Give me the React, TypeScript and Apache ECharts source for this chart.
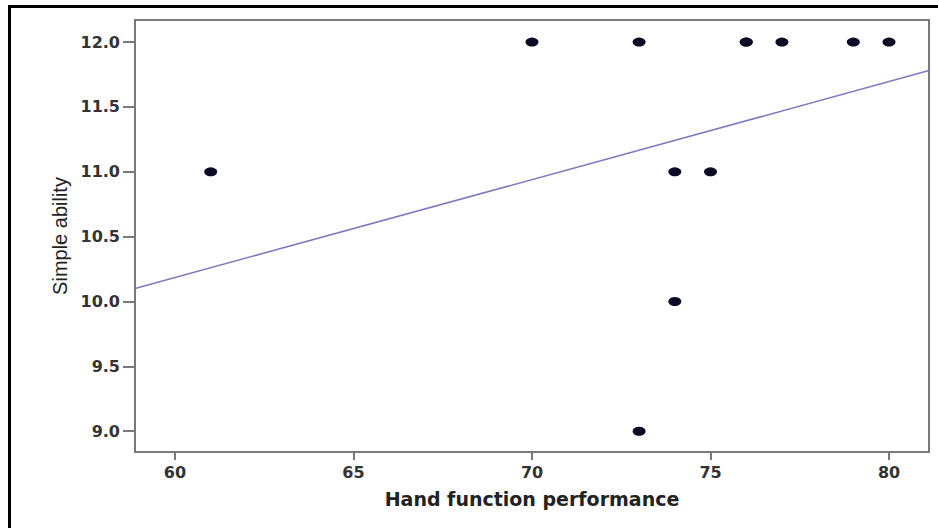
import React, { useEffect, useRef } from "react";
import * as echarts from "echarts";

// Scatter data
const handFunction = [61, 70, 73, 76, 76, 77, 79, 80, 74, 75, 74, 73];
const simpleAbility = [11, 12, 12, 12, 12, 12, 12, 12, 11, 11, 10, 9];

// Fit line end points (read at the plot edges)
const fitX = [58.88, 81.12];
const fitY = [10.1, 11.78];

const xTicks = [60, 65, 70, 75, 80];
const yTicks = [9.0, 9.5, 10.0, 10.5, 11.0, 11.5, 12.0];

const xTitle = "Hand function performance";
const yTitle = "Simple ability";

export default function App() {
  const ref = useRef<HTMLDivElement>(null);

  useEffect(() => {
    document.body.style.margin = "0";
    if (!ref.current) return;
    const chart = echarts.init(ref.current, undefined, { renderer: "svg" });
    const axisColor = "#7a7a7a";
    const labelFont = "DejaVu Sans";
    chart.setOption({
      animation: false,
      backgroundColor: "#ffffff",
      grid: {
        left: 135,
        top: 20,
        right: 9,
        bottom: 76,
        show: true,
        borderColor: axisColor,
        borderWidth: 2,
        backgroundColor: "#ffffff",
      },
      xAxis: {
        type: "value",
        min: 58.88,
        max: 81.12,
        name: xTitle,
        nameLocation: "middle",
        nameGap: 37,
        nameTextStyle: {
          fontFamily: labelFont,
          fontWeight: "bold",
          fontSize: 19,
          color: "#222222",
        },
        splitLine: { show: false },
        axisLine: { show: true, lineStyle: { color: axisColor, width: 2 } },
        axisTick: {
          show: true,
          length: 8,
          customValues: xTicks,
          lineStyle: { color: axisColor, width: 2 },
        },
        axisLabel: {
          customValues: xTicks,
          margin: 12,
          fontFamily: labelFont,
          fontWeight: "bold",
          fontSize: 16,
          color: "#333333",
          showMinLabel: true,
          showMaxLabel: true,
        },
      },
      yAxis: {
        type: "value",
        min: 8.84,
        max: 12.17,
        name: yTitle,
        nameLocation: "middle",
        nameGap: 64,
        nameRotate: 90,
        nameTextStyle: {
          fontFamily: "Liberation Sans Narrow, Liberation Sans, Arial",
          fontSize: 20,
          color: "#222222",
        },
        splitLine: { show: false },
        axisLine: { show: true, lineStyle: { color: axisColor, width: 2 } },
        axisTick: {
          show: true,
          length: 12,
          customValues: yTicks,
          lineStyle: { color: axisColor, width: 2 },
        },
        axisLabel: {
          customValues: yTicks,
          margin: 15,
          formatter: (v: number) => v.toFixed(1),
          fontFamily: labelFont,
          fontWeight: "bold",
          fontSize: 16,
          color: "#333333",
        },
      },
      series: [
        {
          type: "line",
          data: fitX.map((x, i) => [x, fitY[i]]),
          showSymbol: false,
          symbol: "none",
          lineStyle: { color: "#7b7bbf", width: 1.5 },
          z: 2,
          silent: true,
        },
        {
          type: "scatter",
          data: handFunction.map((x, i) => [x, simpleAbility[i]]),
          symbol: "circle",
          symbolSize: [13, 9],
          itemStyle: { color: "#0b0b26", opacity: 1 },
          z: 3,
        },
      ],
      graphic: [
        {
          type: "line",
          shape: { x1: 9.5, y1: 6.5, x2: 938, y2: 6.5 },
          style: { stroke: "#000000", lineWidth: 3 },
          z: 10,
        },
        {
          type: "line",
          shape: { x1: 9.5, y1: 5, x2: 9.5, y2: 528 },
          style: { stroke: "#000000", lineWidth: 3 },
          z: 10,
        },
      ],
    });
    return () => chart.dispose();
  }, []);

  return (
    <div
      ref={ref}
      style={{ position: "fixed", left: 0, top: 0, width: 938, height: 528 }}
    />
  );
}
